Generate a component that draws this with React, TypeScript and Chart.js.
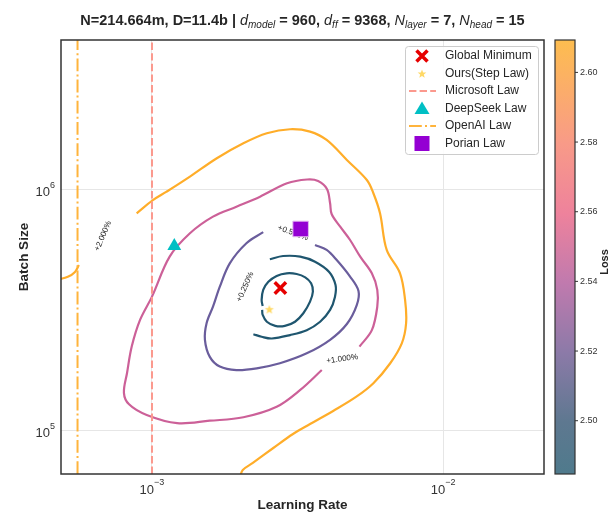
import React, { useEffect, useRef } from 'react';
import { Chart, registerables } from 'chart.js';

Chart.register(...registerables);

const FONT = "'Liberation Sans', Arial, Helvetica, sans-serif";

// Axis ranges and ticks
const X_MIN = 4.87e-4;
const X_MAX = 2.22e-2;
const Y_MIN = 6.63e4;
const Y_MAX = 4.19e6;
const xTickValues = [1e-3, 1e-2];
const yTickValues = [1e5, 1e6];

// Colorbar
const cbarMin = 2.4847;
const cbarMax = 2.6093;
const cbarTicks = [2.5, 2.52, 2.54, 2.56, 2.58, 2.6];

// Title (rich text parts)
const titleParts: { t: string; s: 'b' | 'i' | 'sub' }[] = [
  { t: 'N=214.664m, D=11.4b | ', s: 'b' },
  { t: 'd', s: 'i' },
  { t: 'model', s: 'sub' },
  { t: ' = 960, ', s: 'b' },
  { t: 'd', s: 'i' },
  { t: 'ff', s: 'sub' },
  { t: ' = 9368, ', s: 'b' },
  { t: 'N', s: 'i' },
  { t: 'layer', s: 'sub' },
  { t: ' = 7, ', s: 'b' },
  { t: 'N', s: 'i' },
  { t: 'head', s: 'sub' },
  { t: ' = 15', s: 'b' },
];

// Markers (learning rate, batch size)
const globalMinimum = [{ x: 2.76e-3, y: 3.92e5 }];
const oursStepLaw = [{ x: 2.53e-3, y: 3.2e5 }];
const deepSeekLaw = [{ x: 1.193e-3, y: 5.86e5 }];
const porianLaw = [{ x: 3.24e-3, y: 6.89e5 }];
const microsoftLawLR = 1.0e-3;
const openAILawLR = 5.55e-4;

const legendLabels = ['Global Minimum', 'Ours(Step Law)', 'Microsoft Law', 'DeepSeek Law', 'OpenAI Law', 'Porian Law'];

// Contours: [learning rate, batch size]
const contourInner: [number, number][] = [
  [2.4e-3, 3.3e5], [2.38e-3, 3.5e5], [2.41e-3, 3.85e5], [2.51e-3, 4.16e5], [2.68e-3, 4.4e5],
  [2.9e-3, 4.51e5], [3.14e-3, 4.48e5], [3.36e-3, 4.34e5], [3.52e-3, 4.1e5], [3.57e-3, 3.79e5],
  [3.49e-3, 3.44e5], [3.31e-3, 3.08e5], [3.1e-3, 2.84e5], [2.86e-3, 2.73e5], [2.65e-3, 2.73e5],
  [2.48e-3, 2.84e5], [2.4e-3, 3.03e5], [2.39e-3, 3.18e5],
];
const contour025: [number, number][] = [
  [2.54e-3, 5.16e5], [2.82e-3, 5.32e5], [3.23e-3, 5.29e5], [3.63e-3, 5.04e5], [4.06e-3, 4.57e5],
  [4.27e-3, 4.03e5], [4.25e-3, 3.6e5], [4.09e-3, 3.18e5], [3.78e-3, 2.84e5], [3.4e-3, 2.62e5],
  [2.98e-3, 2.5e5], [2.58e-3, 2.42e5], [2.38e-3, 2.46e5], [2.23e-3, 2.52e5],
];
const contour050: [number, number][] = [
  [2.41e-3, 6.68e5], [2.11e-3, 6.01e5], [1.85e-3, 4.96e5], [1.71e-3, 3.97e5], [1.62e-3, 3.28e5],
  [1.54e-3, 2.8e5], [1.52e-3, 2.39e5], [1.58e-3, 2.03e5], [1.71e-3, 1.85e5], [1.95e-3, 1.79e5],
  [2.29e-3, 1.82e5], [2.75e-3, 1.91e5], [3.4e-3, 2.1e5], [4.09e-3, 2.39e5], [4.67e-3, 2.78e5],
  [5.05e-3, 3.33e5], [5.12e-3, 3.81e5], [4.79e-3, 4.37e5], [4.31e-3, 5.12e5], [3.98e-3, 5.64e5],
  [3.63e-3, 5.91e5],
];
const contour100: [number, number][] = [
  [5.16e-3, 2.24e5], [5.69e-3, 2.62e5], [5.94e-3, 3.28e5], [5.94e-3, 3.85e5], [5.69e-3, 4.51e5],
  [5.19e-3, 5.29e5], [4.79e-3, 6.2e5], [4.43e-3, 7.04e5], [4.14e-3, 7.95e5], [4.09e-3, 8.81e5],
  [3.99e-3, 1.01e6], [3.72e-3, 1.09e6], [3.41e-3, 1.105e6], [2.91e-3, 1.066e6], [2.35e-3, 9.38e5],
  [1.95e-3, 8.52e5], [1.62e-3, 7.75e5], [1.35e-3, 6.61e5], [1.15e-3, 5.29e5], [1.0e-3, 3.61e5],
  [9.1e-4, 2.89e5], [8.52e-4, 2.24e5], [8.21e-4, 1.74e5], [8.01e-4, 1.44e5], [8.34e-4, 1.29e5],
  [9.59e-4, 1.165e5], [1.22e-3, 1.077e5], [1.58e-3, 1.103e5], [2.06e-3, 1.14e5], [2.68e-3, 1.26e5],
  [3.23e-3, 1.48e5], [3.83e-3, 1.79e5],
];
const contour200Left: [number, number][] = [
  [4.75e-4, 4.25e5], [5.14e-4, 4.36e5], [5.44e-4, 4.57e5], [5.61e-4, 4.88e5],
];
const contour200Main: [number, number][] = [
  [8.86e-4, 8.0e5], [1.01e-3, 9.09e5], [1.123e-3, 9.84e5], [1.35e-3, 1.136e6], [1.67e-3, 1.354e6],
  [2.06e-3, 1.562e6], [2.48e-3, 1.719e6], [2.98e-3, 1.786e6], [3.49e-3, 1.746e6], [3.98e-3, 1.612e6],
  [4.67e-3, 1.332e6], [5.47e-3, 1.1e6], [5.76e-3, 9.69e5], [6.07e-3, 8.0e5], [6.4e-3, 5.64e5],
  [7.11e-3, 4.51e5], [7.4e-3, 3.5e5], [7.46e-3, 2.8e5], [7.21e-3, 2.31e5], [6.58e-3, 1.91e5],
  [5.76e-3, 1.578e5], [5.02e-3, 1.384e5], [4.19e-3, 1.211e5], [3.49e-3, 1.069e5], [3.05e-3, 9.72e4],
  [2.61e-3, 8.5e4], [2.22e-3, 7.37e4], [2.05e-3, 6.89e4], [2.01e-3, 6.51e4],
];

// Contour inline labels
const contourLabels = [
  { text: '+0.250%', x: 2.09e-3, y: 3.96e5, angle: -66 },
  { text: '+0.500%', x: 3.05e-3, y: 6.63e5, angle: 20 },
  { text: '+1.000%', x: 4.5e-3, y: 1.99e5, angle: -8 },
  { text: '+2.000%', x: 6.79e-4, y: 6.44e5, angle: -67 },
];

// Colors
const C_TEAL = '#1f566f';
const C_PURPLE = '#6a5d9c';
const C_PINK = '#cc6098';
const C_ORANGE = '#ffad29';
const C_RED = '#e60000';
const C_STAR = '#ffd966';
const C_SALMON = '#fb998e';
const C_OPENAI = '#ffb43c';
const C_CYAN = '#00bfc4';
const C_VIOLET = '#9400d3';
const cbarStops: [number, string][] = [
  [0, '#4f7a8c'], [0.12, '#5e7890'], [0.28, '#8c7aa8'], [0.44, '#c07aae'],
  [0.6, '#ee829c'], [0.76, '#f89a88'], [0.92, '#fcb262'], [1, '#fdbd4f'],
];

const MS_DASH = [7.4, 3.2];
const OA_DASH = [12.8, 3.2, 2, 3.2];

function makeStar(r: number, color: string) {
  const size = Math.ceil(r * 2 + 2);
  const c = document.createElement('canvas');
  c.width = size;
  c.height = size;
  const g = c.getContext('2d')!;
  drawStar(g, size / 2, size / 2 + 0.5, r, color);
  return c;
}

function drawStar(g: CanvasRenderingContext2D, cx: number, cy: number, r: number, color: string) {
  g.beginPath();
  for (let i = 0; i < 10; i++) {
    const rad = i % 2 === 0 ? r : r * 0.42;
    const a = -Math.PI / 2 + (i * Math.PI) / 5;
    g.lineTo(cx + rad * Math.cos(a), cy + rad * Math.sin(a));
  }
  g.closePath();
  g.fillStyle = color;
  g.fill();
}

export default function App() {
  const ref = useRef<HTMLCanvasElement>(null);

  useEffect(() => {
    const canvas = ref.current!;
    const starImg = makeStar(4.8, C_STAR);
    const toPts = (arr: [number, number][]) => arr.map(([x, y]) => ({ x, y }));
    const contourDs = (label: string, arr: [number, number][], color: string) => ({
      label,
      data: toPts(arr),
      showLine: true,
      pointRadius: 0,
      borderColor: color,
      backgroundColor: color,
      borderWidth: 2.2,
      tension: 0.35,
      fill: false,
      order: 10,
      clip: 0,
    });

    const plugin = {
      id: 'customDraw',
      beforeDatasetsDraw(chart: any) {
        const ctx = chart.ctx as CanvasRenderingContext2D;
        const xs = chart.scales.x;
        const ys = chart.scales.y;
        ctx.save();
        ctx.font = `8px ${FONT}`;
        ctx.fillStyle = '#222';
        ctx.textAlign = 'center';
        ctx.textBaseline = 'middle';
        for (const l of contourLabels) {
          const px = xs.getPixelForValue(l.x);
          const py = ys.getPixelForValue(l.y);
          ctx.save();
          ctx.translate(px, py);
          ctx.rotate((l.angle * Math.PI) / 180);
          ctx.fillText(l.text, 0, 0);
          ctx.restore();
        }
        ctx.restore();
      },
      afterDraw(chart: any) {
        const ctx = chart.ctx as CanvasRenderingContext2D;
        const a = chart.chartArea;
        const xs = chart.scales.x;
        const ys = chart.scales.y;
        ctx.save();
        // frame
        ctx.strokeStyle = '#333';
        ctx.lineWidth = 1.5;
        ctx.strokeRect(a.left, a.top, a.right - a.left, a.bottom - a.top);

        // tick labels
        const expStr = (v: number) => {
          const e = Math.round(Math.log10(v));
          return e < 0 ? '\u2212' + -e : String(e);
        };
        ctx.fillStyle = '#333';
        ctx.textBaseline = 'alphabetic';
        for (const v of xTickValues) {
          const px = xs.getPixelForValue(v);
          ctx.font = `13px ${FONT}`;
          const wb = ctx.measureText('10').width;
          ctx.font = `9px ${FONT}`;
          const we = ctx.measureText(expStr(v)).width;
          const x0 = px - (wb + we) / 2;
          ctx.textAlign = 'left';
          ctx.font = `13px ${FONT}`;
          ctx.fillText('10', x0, a.bottom + 20);
          ctx.font = `9px ${FONT}`;
          ctx.fillText(expStr(v), x0 + wb, a.bottom + 11);
        }
        for (const v of yTickValues) {
          const py = ys.getPixelForValue(v);
          ctx.font = `9px ${FONT}`;
          const we = ctx.measureText(expStr(v)).width;
          ctx.textAlign = 'right';
          ctx.fillText(expStr(v), a.left - 6, py - 1.5);
          ctx.font = `13px ${FONT}`;
          ctx.fillText('10', a.left - 6 - we, py + 6);
        }

        // axis titles
        ctx.fillStyle = '#262626';
        ctx.font = `bold 13.5px ${FONT}`;
        ctx.textAlign = 'center';
        ctx.textBaseline = 'middle';
        ctx.fillText('Learning Rate', (a.left + a.right) / 2, 505);
        ctx.save();
        ctx.translate(24, (a.top + a.bottom) / 2);
        ctx.rotate(-Math.PI / 2);
        ctx.fillText('Batch Size', 0, 0);
        ctx.restore();

        // title
        const fontOf = (s: string) =>
          s === 'b' ? `bold 14.5px ${FONT}` : s === 'i' ? `italic 14.5px ${FONT}` : `italic 10px ${FONT}`;
        let total = 0;
        const widths = titleParts.map((p) => {
          ctx.font = fontOf(p.s);
          const w = ctx.measureText(p.t).width;
          total += w;
          return w;
        });
        let tx = (a.left + a.right) / 2 - total / 2;
        ctx.textAlign = 'left';
        ctx.textBaseline = 'alphabetic';
        ctx.fillStyle = '#262626';
        titleParts.forEach((p, i) => {
          ctx.font = fontOf(p.s);
          ctx.fillText(p.t, tx, p.s === 'sub' ? 28 : 25);
          tx += widths[i];
        });

        // colorbar
        const cbL = 555;
        const cbR = 575;
        const cbT = a.top;
        const cbB = a.bottom;
        const grad = ctx.createLinearGradient(0, cbB, 0, cbT);
        for (const [s, c] of cbarStops) grad.addColorStop(s, c);
        ctx.fillStyle = grad;
        ctx.fillRect(cbL, cbT, cbR - cbL, cbB - cbT);
        ctx.strokeStyle = '#333';
        ctx.lineWidth = 1.2;
        ctx.strokeRect(cbL, cbT, cbR - cbL, cbB - cbT);
        ctx.font = `9px ${FONT}`;
        ctx.fillStyle = '#333';
        ctx.textAlign = 'left';
        ctx.textBaseline = 'middle';
        ctx.lineWidth = 1;
        for (const v of cbarTicks) {
          const py = cbB - ((v - cbarMin) / (cbarMax - cbarMin)) * (cbB - cbT);
          ctx.beginPath();
          ctx.moveTo(cbR, py);
          ctx.lineTo(cbR + 3, py);
          ctx.stroke();
          ctx.fillText(v.toFixed(2), 580, py);
        }
        ctx.save();
        ctx.font = `bold 11px ${FONT}`;
        ctx.fillStyle = '#262626';
        ctx.textAlign = 'center';
        ctx.translate(605, 262);
        ctx.rotate(-Math.PI / 2);
        ctx.fillText('Loss', 0, 0);
        ctx.restore();

        // legend
        const lx = 405.5;
        const ly = 46.5;
        const lw = 133;
        const lh = 108;
        ctx.beginPath();
        (ctx as any).roundRect(lx, ly, lw, lh, 3);
        ctx.fillStyle = 'rgba(255,255,255,0.85)';
        ctx.fill();
        ctx.strokeStyle = '#cccccc';
        ctx.lineWidth = 1;
        ctx.stroke();
        const mx = 422;
        legendLabels.forEach((lab, i) => {
          const cy = 56 + i * 17.5;
          ctx.save();
          if (i === 0) {
            ctx.strokeStyle = C_RED;
            ctx.lineWidth = 3.5;
            ctx.beginPath();
            ctx.moveTo(mx - 5.5, cy - 5.5);
            ctx.lineTo(mx + 5.5, cy + 5.5);
            ctx.moveTo(mx + 5.5, cy - 5.5);
            ctx.lineTo(mx - 5.5, cy + 5.5);
            ctx.stroke();
          } else if (i === 1) {
            drawStar(ctx, mx, cy + 0.5, 4.6, C_STAR);
          } else if (i === 2 || i === 4) {
            ctx.strokeStyle = i === 2 ? C_SALMON : C_OPENAI;
            ctx.lineWidth = 2;
            ctx.setLineDash(i === 2 ? MS_DASH : OA_DASH);
            ctx.beginPath();
            ctx.moveTo(409, cy);
            ctx.lineTo(436, cy);
            ctx.stroke();
          } else if (i === 3) {
            ctx.fillStyle = C_CYAN;
            ctx.beginPath();
            ctx.moveTo(mx, cy - 7);
            ctx.lineTo(mx + 7.5, cy + 5.5);
            ctx.lineTo(mx - 7.5, cy + 5.5);
            ctx.closePath();
            ctx.fill();
          } else {
            ctx.fillStyle = C_VIOLET;
            ctx.fillRect(mx - 7.5, cy - 7.5, 15, 15);
          }
          ctx.restore();
          ctx.font = `12px ${FONT}`;
          ctx.fillStyle = '#262626';
          ctx.textAlign = 'left';
          ctx.textBaseline = 'middle';
          ctx.fillText(lab, 445, cy);
        });
        ctx.restore();
      },
    };

    const chart = new Chart(canvas, {
      type: 'scatter',
      data: {
        datasets: [
          { label: legendLabels[0], data: globalMinimum, pointStyle: 'crossRot', pointRadius: 8, borderWidth: 3.5, borderColor: C_RED, backgroundColor: C_RED, order: 0 },
          { label: legendLabels[1], data: oursStepLaw, pointStyle: starImg as any, pointRadius: 5, order: 1 },
          { label: legendLabels[5], data: porianLaw, pointStyle: 'rect', pointRadius: 11, borderWidth: 1, borderColor: '#e4b8f0', backgroundColor: C_VIOLET, order: 2 },
          { label: legendLabels[3], data: deepSeekLaw, pointStyle: 'triangle', pointRadius: 8, borderWidth: 0, backgroundColor: C_CYAN, borderColor: C_CYAN, order: 3 },
          { label: legendLabels[2], data: [{ x: microsoftLawLR, y: Y_MIN }, { x: microsoftLawLR, y: Y_MAX }], showLine: true, pointRadius: 0, borderColor: C_SALMON, borderWidth: 2, borderDash: MS_DASH, order: 5, clip: 0 },
          { label: legendLabels[4], data: [{ x: openAILawLR, y: Y_MIN }, { x: openAILawLR, y: Y_MAX }], showLine: true, pointRadius: 0, borderColor: C_OPENAI, borderWidth: 2, borderDash: OA_DASH, order: 5, clip: 0 },
          contourDs('+0.1%', contourInner, C_TEAL),
          contourDs('+0.25%', contour025, C_TEAL),
          contourDs('+0.5%', contour050, C_PURPLE),
          contourDs('+1%', contour100, C_PINK),
          contourDs('+2% a', contour200Left, C_ORANGE),
          contourDs('+2% b', contour200Main, C_ORANGE),
        ] as any,
      },
      options: {
        responsive: false,
        animation: false,
        devicePixelRatio: 1,
        events: [],
        layout: { padding: { left: 0, top: 40, right: 72, bottom: 0 } },
        plugins: { legend: { display: false }, tooltip: { enabled: false }, title: { display: false } },
        scales: {
          x: {
            type: 'logarithmic',
            min: X_MIN,
            max: X_MAX,
            bounds: 'data',
            afterBuildTicks: (s: any) => {
              s.ticks = xTickValues.map((v) => ({ value: v }));
            },
            afterFit: (s: any) => {
              s.height = 42;
            },
            ticks: { display: false },
            grid: { color: '#e6e6e6', lineWidth: 1, drawTicks: false },
            border: { display: false },
          },
          y: {
            type: 'logarithmic',
            min: Y_MIN,
            max: Y_MAX,
            bounds: 'data',
            afterBuildTicks: (s: any) => {
              s.ticks = yTickValues.map((v) => ({ value: v }));
            },
            afterFit: (s: any) => {
              s.width = 61;
            },
            ticks: { display: false },
            grid: { color: '#e6e6e6', lineWidth: 1, drawTicks: false },
            border: { display: false },
          },
        },
      } as any,
      plugins: [plugin],
    });
    return () => chart.destroy();
  }, []);

  return (
    <div style={{ position: 'absolute', left: 0, top: 0, width: 616, height: 516, background: '#fff' }}>
      <canvas ref={ref} width={616} height={516} style={{ display: 'block', width: 616, height: 516 }} />
    </div>
  );
}
